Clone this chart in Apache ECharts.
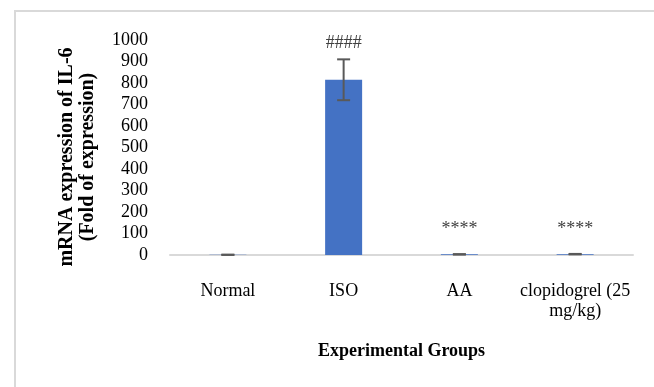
<!DOCTYPE html>
<html>
<head>
<meta charset="utf-8">
<script src="https://cdn.jsdelivr.net/npm/echarts@6/dist/echarts.min.js"></script>
<style>
html,body{margin:0;padding:0;background:#fff;}
#frame{position:absolute;left:14px;top:10px;width:640px;height:377px;border-left:2px solid #d9d9d9;border-top:2px solid #d9d9d9;box-sizing:border-box;}
#chart{position:absolute;left:0;top:0;width:654px;height:387px;}
</style>
</head>
<body>
<div id="frame"></div>
<div id="chart"></div>
<script>
var categories = ['Normal', 'ISO', 'AA', 'clopidogrel (25 mg/kg)'];
var values = [1, 815, 3, 4];
var errors = [0.5, 95, 1, 1];
var sigLabels = ['', '####', '****', '****'];
var sigY = [null, 985, 121, 121];
var yTicks = {min: 0, max: 1000, interval: 100};

var FONT = '"Liberation Serif", "Times New Roman", serif';
var chart = echarts.init(document.getElementById('chart'));

var errData = categories.map(function (c, i) { return [i, values[i] - errors[i], values[i] + errors[i]]; });
var sigData = categories.map(function (c, i) { return [i, sigY[i], sigLabels[i]]; }).filter(function (d) { return d[2]; });

chart.setOption({
  animation: false,
  grid: {left: 170, right: 21, top: 40, bottom: 132},
  xAxis: {
    type: 'category',
    data: categories,
    axisLine: {lineStyle: {color: '#d9d9d9', width: 2}},
    axisTick: {show: false},
    axisLabel: {
      color: '#000', fontFamily: FONT, fontSize: 18, margin: 26, lineHeight: 20,
      interval: 0,
      formatter: function (v) { return v.replace('(25 ', '(25\n'); }
    },
    name: 'Experimental Groups',
    nameLocation: 'middle',
    nameGap: 87,
    nameTextStyle: {color: '#000', fontFamily: FONT, fontSize: 18, fontWeight: 'bold'}
  },
  yAxis: {
    type: 'value',
    min: yTicks.min, max: yTicks.max, interval: yTicks.interval,
    axisLine: {show: false},
    axisTick: {show: false},
    splitLine: {show: false},
    axisLabel: {color: '#000', fontFamily: FONT, fontSize: 18, margin: 22,
      formatter: function (v) { return String(v); }}
  },
  graphic: [{
    type: 'text',
    x: 77, y: 157,
    rotation: Math.PI / 2,
    style: {
      text: 'mRNA expression of IL-6\n(Fold of expression)',
      fill: '#000',
      font: 'bold 20px ' + FONT,
      align: 'center',
      verticalAlign: 'middle',
      lineHeight: 21
    }
  }],
  series: [{
    type: 'bar',
    data: values,
    barWidth: 37,
    itemStyle: {color: '#4472C4'}
  }, {
    type: 'custom',
    data: errData,
    z: 5,
    renderItem: function (params, api) {
      var x = api.coord([api.value(0), api.value(1)])[0];
      var yLo = api.coord([api.value(0), api.value(1)])[1];
      var yHi = api.coord([api.value(0), api.value(2)])[1];
      var half = 6.5;
      var st = {stroke: '#595959', lineWidth: 2};
      return {type: 'group', children: [
        {type: 'line', shape: {x1: x, y1: yLo, x2: x, y2: yHi}, style: st},
        {type: 'line', shape: {x1: x - half, y1: yHi, x2: x + half, y2: yHi}, style: st},
        {type: 'line', shape: {x1: x - half, y1: yLo, x2: x + half, y2: yLo}, style: st}
      ]};
    }
  }, {
    type: 'custom',
    data: sigData,
    z: 6,
    renderItem: function (params, api) {
      var p = api.coord([api.value(0), api.value(1)]);
      return {type: 'text', x: p[0], y: p[1], style: {
        text: sigLabels[api.value(0)], fill: '#404040', font: '18px ' + FONT,
        align: 'center', verticalAlign: 'middle'
      }};
    }
  }]
});
</script>
</body>
</html>
